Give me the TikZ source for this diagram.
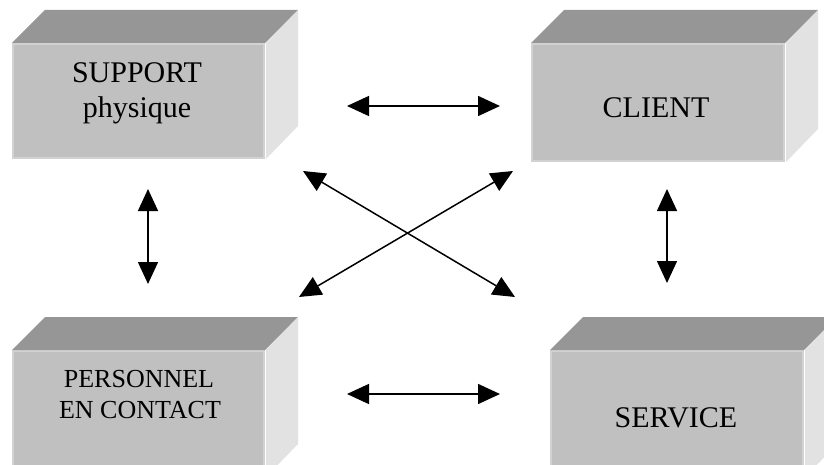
\documentclass[tikz,border=0pt]{standalone}
\usepackage{fontspec}
\setmainfont{Liberation Serif}
\usetikzlibrary{arrows.meta}
\definecolor{frontc}{HTML}{C0C0C0}
\definecolor{topc}{HTML}{969696}
\definecolor{sidec}{HTML}{E2E2E2}
\definecolor{edgec}{HTML}{D2D2D2}
\begin{document}
\begin{tikzpicture}[x=1pt,y=-1pt,
  frontbox/.style={fill=frontc, draw=edgec, line width=2pt, anchor=north west, inner sep=0pt, minimum width=251pt},
  topface/.style={fill=topc},
  sideface/.style={fill=sidec},
  lbl/.style={anchor=base, inner sep=0pt, font=\fontsize{30}{30}\selectfont},
  lbls/.style={anchor=base, inner sep=0pt, font=\fontsize{26}{26}\selectfont},
  dblarrow/.style={{Triangle[length=22pt,width=20pt]}-{Triangle[length=22pt,width=20pt]}, line width=1.5pt, black}]
\useasboundingbox (0,0) rectangle (824,465);
\clip (0,0) rectangle (824,465);
% boxes
\node[frontbox, minimum height=114pt] (b1) at (12,43) {};
\node[frontbox, minimum height=117pt, minimum width=252pt] (b2) at (531,43) {};
\node[frontbox, minimum height=125pt] (b3) at (12,350) {};
\node[frontbox, minimum height=125pt, minimum width=252pt] (b4) at (550,350) {};
\foreach \b in {b1,b2,b3,b4}{
  \fill[topface] (\b.north west) -- ++(33,-33) -- ([shift={(33,-33)}]\b.north east) -- (\b.north east) -- cycle;
  \fill[sideface] ([xshift=1pt]\b.north east) -- ([shift={(33,-33)}]\b.north east) -- ([shift={(33,-33)}]\b.south east) -- ([xshift=1pt]\b.south east) -- cycle;
}
% labels
\node[lbl] (t1a) at (137,83) {SUPPORT};
\node[lbl] (t1b) at (137,118) {physique};
\node[lbl] (t2) at (656,118) {CLIENT};
\node[lbls] (t3a) at (139,387) {PERSONNEL};
\node[lbls] (t3b) at (140,418) {EN CONTACT};
\node[lbl] (t4) at (676,427) {SERVICE};
% arrow end points
\coordinate (h1l) at (347,106);
\coordinate (h1r) at (500,106);
\coordinate (h2l) at (347,394);
\coordinate (h2r) at (500,394);
\coordinate (v1t) at (148,189);
\coordinate (v1b) at (148,284);
\coordinate (v2t) at (667,189);
\coordinate (v2b) at (667,283);
\coordinate (d1a) at (303,171);
\coordinate (d1b) at (515,297);
\coordinate (d2a) at (513,171);
\coordinate (d2b) at (299,297);
\draw[dblarrow] (h1l) -- (h1r);
\draw[dblarrow] (h2l) -- (h2r);
\draw[dblarrow] (v1t) -- (v1b);
\draw[dblarrow] (v2t) -- (v2b);
\draw[dblarrow] (d1a) -- (d1b);
\draw[dblarrow] (d2a) -- (d2b);
\end{tikzpicture}
\end{document}
